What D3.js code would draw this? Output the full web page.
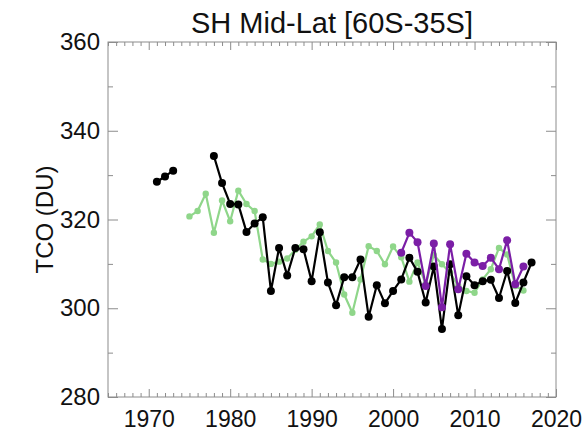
<!DOCTYPE html>
<html>
<head>
<meta charset="utf-8">
<script src="https://cdn.jsdelivr.net/npm/d3@7"></script>
<style>
  body { margin: 0; background: #fff; }
  text { font-family: "Liberation Sans", Arial, sans-serif; }
</style>
</head>
<body>
<div id="chart"></div>
<script>
// Chart data
const blackYears = [1971, 1972, 1973, 1974, 1975, 1976, 1977, 1978, 1979, 1980, 1981, 1982, 1983, 1984,
  1985, 1986, 1987, 1988, 1989, 1990, 1991, 1992, 1993, 1994, 1995, 1996, 1997, 1998, 1999, 2000,
  2001, 2002, 2003, 2004, 2005, 2006, 2007, 2008, 2009, 2010, 2011, 2012, 2013, 2014, 2015, 2016, 2017];
const blackValues = [328.5, 329.7, 331.0, null, null, null, null, 334.3, 328.2, 323.5, 323.4, 317.2, 319.1, 320.5,
  303.9, 313.6, 307.4, 313.6, 313.3, 306.1, 317.1, 305.8, 300.7, 307.0, 307.0, 311.0, 298.1, 305.2, 301.1, 303.9,
  306.5, 311.4, 308.2, 301.3, 309.4, 295.3, 309.9, 298.4, 307.2, 305.2, 306.1, 306.4, 302.3, 308.4, 301.2, 305.8, 310.3];

const greenYears = [1975, 1976, 1977, 1978, 1979, 1980, 1981, 1982, 1983, 1984, 1985, 1986, 1987, 1988,
  1989, 1990, 1991, 1992, 1993, 1994, 1995, 1996, 1997, 1998, 1999, 2000, 2001, 2002, 2003, 2004,
  2005, 2006, 2007, 2008, 2009, 2010, 2011, 2012, 2013, 2014, 2015, 2016];
const greenValues = [320.7, 321.9, 325.8, 317.0, 324.3, 319.6, 326.5, 323.5, 321.9, 311.0, 310.0, 310.5, 311.2, 313.2,
  315.0, 316.2, 318.9, 312.9, 310.3, 303.1, 299.0, 306.5, 314.0, 312.9, 309.9, 313.9, 311.5, 306.0, 310.3, 305.5,
  312.0, 309.9, 308.0, 305.0, 303.9, 303.5, 306.5, 308.8, 313.6, 312.1, 305.0, 304.0];

const purpleYears = [2001, 2002, 2003, 2004, 2005, 2006, 2007, 2008, 2009, 2010, 2011, 2012, 2013, 2014, 2015, 2016];
const purpleValues = [312.5, 317.0, 314.9, 305.0, 314.6, 300.2, 314.4, 304.3, 312.3, 310.3, 309.5, 311.4, 308.8, 315.3, 305.4, 309.4];

const xMajorTicks = [1970, 1980, 1990, 2000, 2010, 2020];
const yMajorTicks = [280, 300, 320, 340, 360];

const width = 587;
const height = 435;
const margin = { top: 42, right: 31, bottom: 38, left: 108 };
const innerW = width - margin.left - margin.right;
const innerH = height - margin.top - margin.bottom;

const svg = d3.select('#chart')
  .append('svg')
  .attr('width', width)
  .attr('height', height);

const x = d3.scaleLinear().domain([1965, 2020]).range([0, innerW]);
const y = d3.scaleLinear().domain([280, 360]).range([innerH, 0]);

const plot = svg.append('g')
  .attr('transform', `translate(${margin.left},${margin.top})`);

// Title
svg.append('text')
  .attr('x', margin.left + innerW / 2)
  .attr('y', 33)
  .attr('text-anchor', 'middle')
  .attr('fill', '#111')
  .style('font-size', '29px')
  .text('SH Mid-Lat [60S-35S]');

// Y axis label
svg.append('text')
  .attr('transform', `translate(45,${margin.top + innerH / 2}) rotate(-90)`)
  .attr('text-anchor', 'middle')
  .attr('dy', '0.35em')
  .attr('fill', '#111')
  .style('font-size', '24px')
  .text('TCO (DU)');

// Inward ticks on all four sides, minor and major
const frameColor = '#8c8c8c';
const xMinor = d3.range(1965, 2021).filter((d) => d % 10 !== 0);
const yMinor = [290, 310, 330, 350];

function drawTicks(axisFn, scale, values, size, transform) {
  const g = plot.append('g')
    .attr('transform', transform)
    .call(axisFn(scale).tickValues(values).tickSize(size).tickFormat(''));
  g.select('.domain').remove();
  g.selectAll('line').attr('stroke', frameColor).attr('stroke-width', 1);
  return g;
}

drawTicks(d3.axisBottom, x, xMinor, -4, `translate(0,${innerH})`);
drawTicks(d3.axisBottom, x, xMajorTicks, -8, `translate(0,${innerH})`);
drawTicks(d3.axisTop, x, xMinor, -4, 'translate(0,0)');
drawTicks(d3.axisTop, x, xMajorTicks, -8, 'translate(0,0)');
drawTicks(d3.axisLeft, y, yMinor, -5, 'translate(0,0)');
drawTicks(d3.axisLeft, y, yMajorTicks, -10, 'translate(0,0)');
drawTicks(d3.axisRight, y, yMinor, -5, `translate(${innerW},0)`);
drawTicks(d3.axisRight, y, yMajorTicks, -10, `translate(${innerW},0)`);

// Tick labels
const labelFont = '"Liberation Sans", Arial, sans-serif';
const xLabels = plot.append('g')
  .attr('transform', `translate(0,${innerH})`)
  .call(d3.axisBottom(x).tickValues(xMajorTicks).tickSize(0).tickPadding(14).tickFormat(d3.format('d')));
xLabels.select('.domain').remove();
xLabels.selectAll('text').style('font-size', '23px').attr('fill', '#111').style('font-family', labelFont);

const yLabels = plot.append('g')
  .call(d3.axisLeft(y).tickValues(yMajorTicks).tickSize(0).tickPadding(8).tickFormat(d3.format('d')));
yLabels.select('.domain').remove();
yLabels.selectAll('text').style('font-size', '24px').attr('fill', '#111').style('font-family', labelFont);

// Frame
plot.append('rect')
  .attr('width', innerW)
  .attr('height', innerH)
  .attr('fill', 'none')
  .attr('stroke', frameColor)
  .attr('stroke-width', 1);

// Series
function drawSeries(years, values, color, r, lw) {
  const data = years.map((yr, i) => ({ year: yr, value: values[i] }));
  const line = d3.line()
    .defined((d) => d.value !== null)
    .x((d) => x(d.year))
    .y((d) => y(d.value));
  plot.append('path')
    .datum(data)
    .attr('d', line)
    .attr('fill', 'none')
    .attr('stroke', color)
    .attr('stroke-width', lw)
    .attr('stroke-linejoin', 'round');
  plot.append('g')
    .selectAll('circle')
    .data(data.filter((d) => d.value !== null))
    .join('circle')
    .attr('cx', (d) => x(d.year))
    .attr('cy', (d) => y(d.value))
    .attr('r', r)
    .attr('fill', color);
}

drawSeries(greenYears, greenValues, '#8fd68a', 3.2, 2.2);
drawSeries(blackYears, blackValues, '#000000', 4, 2.2);
drawSeries(purpleYears, purpleValues, '#7b1ea6', 4, 2.2);
</script>
</body>
</html>
